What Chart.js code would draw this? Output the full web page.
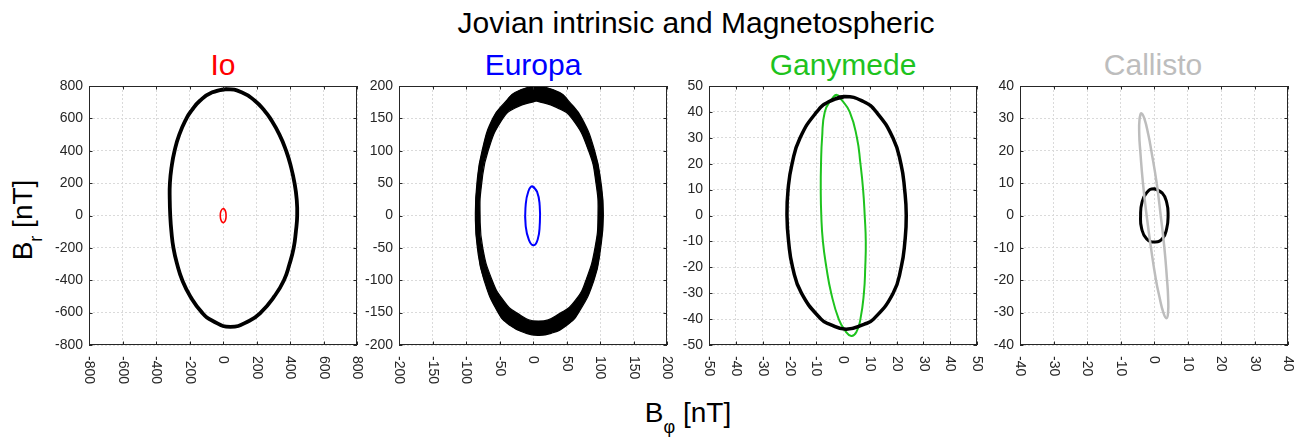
<!DOCTYPE html>
<html>
<head>
<meta charset="utf-8">
<script src="https://cdn.jsdelivr.net/npm/chart.js@4.4.1/dist/chart.umd.min.js"></script>
<style>
  body { margin: 0; background: #fff; width: 1305px; height: 439px; overflow: hidden; position: relative;
         font-family: "Liberation Sans", Arial, sans-serif; }
  canvas { position: absolute; top: 0; }
  .t { position: absolute; white-space: nowrap; text-align: center; font-size: 30px; line-height: 30px; }
  .lab { position: absolute; white-space: nowrap; color: #000; }
  .lab span { position: relative; }
</style>
</head>
<body>
<div class="t" style="left:446px;width:500px;top:8px;color:#000">Jovian intrinsic and Magnetospheric</div>
<div class="t" style="left:73px;width:300px;top:50px;color:#ff0000">Io</div>
<div class="t" style="left:383px;width:300px;top:50px;color:#0000ff">Europa</div>
<div class="t" style="left:693px;width:300px;top:50px;color:#1ec31e">Ganymede</div>
<div class="t" style="left:1003px;width:300px;top:50px;color:#bdbdbd">Callisto</div>
<div class="lab" style="font-size:28px;line-height:28px;left:24px;top:220px;transform:translate(-50%,-50%) rotate(-90deg)">B<span style="font-size:18px;top:10px">r</span> [nT]</div>
<div class="lab" style="font-size:28px;line-height:28px;left:588px;width:200px;text-align:center;top:399px">B<span style="font-size:18px;top:11px">φ</span> [nT]</div>

<script>
// tick values per panel
const ioTicks = [-800, -600, -400, -200, 0, 200, 400, 600, 800];
const europaTicks = [-200, -150, -100, -50, 0, 50, 100, 150, 200];
const ganymedeTicks = [-50, -40, -30, -20, -10, 0, 10, 20, 30, 40, 50];
const callistoTicks = [-40, -30, -20, -10, 0, 10, 20, 30, 40];

// curves, [B_phi, B_r] in nT
const ioJovian = [[22,781],[-67,760],[-138,709],[-187,650],[-218,600],[-261,500],[-289,400],[-307,300],
  [-317,200],[-318,100],[-315,0],[-308,-100],[-296,-200],[-274,-300],[-243,-400],[-195,-500],[-125,-600],
  [-63,-650],[44,-688],[158,-650],[225,-600],[306,-500],[364,-400],[397,-300],[422,-200],[435,-100],
  [443,0],[440,100],[427,200],[406,300],[377,400],[337,500],[282,600],[246,650],[190,709],[114,760],
  [22,781],[-67,760]];
const ioMoon = [[2,43],[13,32],[18,5],[15,-28],[3,-44],[-10,-33],[-16,-5],[-12,28],[2,43],[13,32]];

const europaOuter = [[5,202],[-27,190],[-40,177],[-60,150],[-76,100],[-83.7,50],[-86,0],[-83,-50],
  [-73,-100],[-52,-150],[-34,-170],[-10,-182],[7,-185],[27,-182],[50,-170],[68,-150],[91,-100],
  [101,-50],[105,0],[101.6,50],[92,100],[73,150],[53,177],[40,190],[5,202]];
const europaInner = [[5,177],[35,167],[58,150],[83,100],[94,50],[97,0],[92.5,-50],[79,-100],[64,-130],
  [42,-150],[8,-163],[-25,-150],[-45,-130],[-61,-100],[-75,-50],[-79,0],[-76.5,50],[-67,100],[-45,150],
  [-25,167],[5,177]];
const europaMoon = [[-1,45],[6,37],[10,15],[10,-15],[7,-37],[1,-46],[-6,-38],[-11,-15],[-11,15],[-7,37],[-1,45],[6,37]];

const ganymedeJovian = [[0.6,45.9],[-5.2,44],[-9.8,40],[-16,30],[-19,20],[-20.5,10],[-20.9,0],[-20.3,-10],
  [-18.8,-20],[-15.5,-30],[-8.2,-40],[-4.9,-42],[1.2,-43.9],[7.8,-42],[11.4,-40],[18.7,-30],[21.7,-20],
  [23.1,-10],[23.6,0],[23,10],[21.6,20],[18.6,30],[12.4,40],[7.6,44],[0.6,45.9],[-5.2,44]];
const ganymedeMoon = [[-2.5,46.6],[-4.4,44.7],[-6.8,40],[-7.8,30],[-8.2,20],[-8.3,10],[-8.1,0],[-7.5,-10],
  [-6.2,-20],[-4.4,-30],[-1.6,-40],[0.8,-44.5],[3.1,-46.5],[5,-45],[6.5,-40],[7.8,-30],[8.3,-20],[8.5,-10],
  [8.1,0],[7.5,10],[6.5,20],[5.2,30],[2.5,40],[-0.6,44.7],[-2.5,46.6],[-4.4,44.7]];

const callistoMoon = [[-3.8,31.6],[-4.3,30],[-4.4,25],[-4.1,20],[-3.3,10],[-2.2,0],[-0.9,-10],[0.6,-20],
  [1.6,-25],[2.8,-30],[3.7,-31.7],[4.2,-30],[4.2,-25],[3.9,-20],[3.1,-10],[2,0],[0.8,10],[-0.8,20],
  [-1.7,25],[-2.9,30],[-3.8,31.6],[-4.3,30]];
const callistoJovian = [[0,8.3],[2.4,7],[3.8,4],[4.2,0],[3.8,-4],[2.6,-7],[0.4,-8.2],[-2.2,-7.2],[-3.7,-4],
  [-4,0],[-3.6,4],[-2.2,7],[0,8.3],[2.4,7]];

const pts = arr => arr.map(([x, y]) => ({x, y}));
const curve = (arr, color, width) => ({
  data: pts(arr), borderColor: color, borderWidth: width, pointRadius: 0, tension: 0.5, fill: false
});

// Europa band: outer ring, then inner ring the other way round, filled as one shape
const europaBand = europaOuter.concat([europaOuter[europaOuter.length - 1], europaInner[0]], europaInner);

const panels = [
  {left: 89, ticks: ioTicks, sets: [curve(ioJovian, '#000', 3.8), curve(ioMoon, '#ff0000', 1.6)]},
  {left: 399, ticks: europaTicks, sets: [
    Object.assign(curve(europaBand, '#000', 1.2), {fill: 'shape', backgroundColor: '#000', clip: 0}),
    curve(europaMoon, '#0000ff', 2)]},
  {left: 709, ticks: ganymedeTicks, sets: [curve(ganymedeJovian, '#000', 3.5), curve(ganymedeMoon, '#1ec31e', 2)]},
  {left: 1020, ticks: callistoTicks, sets: [curve(callistoMoon, '#bdbdbd', 2.5), curve(callistoJovian, '#000', 3)]}
];

const boxPlugin = {
  id: 'box',
  afterDraw(chart) {
    const {ctx, chartArea: a, scales: {x, y}} = chart;
    ctx.save();
    ctx.strokeStyle = '#262626';
    ctx.lineWidth = 1;
    ctx.strokeRect(a.left + 0.5, a.top + 0.5, a.right - a.left - 1, a.bottom - a.top - 1);
    const tl = 3.5;
    ctx.beginPath();
    x.ticks.forEach(t => {
      const p = Math.round(x.getPixelForValue(t.value)) + 0.5;
      ctx.moveTo(p, a.bottom); ctx.lineTo(p, a.bottom - tl);
      ctx.moveTo(p, a.top); ctx.lineTo(p, a.top + tl);
    });
    y.ticks.forEach(t => {
      const p = Math.round(y.getPixelForValue(t.value)) + 0.5;
      ctx.moveTo(a.left, p); ctx.lineTo(a.left + tl, p);
      ctx.moveTo(a.right, p); ctx.lineTo(a.right - tl, p);
    });
    ctx.stroke();
    // x tick labels turned clockwise
    ctx.fillStyle = '#262626';
    ctx.font = '14px "Liberation Sans", Arial, sans-serif';
    ctx.textAlign = 'left';
    ctx.textBaseline = 'middle';
    x.ticks.forEach(t => {
      ctx.save();
      ctx.translate(x.getPixelForValue(t.value), a.bottom + 11);
      ctx.rotate(Math.PI / 2);
      ctx.fillText(String(t.value), 0, 0);
      ctx.restore();
    });
    ctx.restore();
  }
};

panels.forEach(p => {
  const cv = document.createElement('canvas');
  cv.width = 352; cv.height = 439;
  cv.style.left = (p.left - 70) + 'px';
  document.body.appendChild(cv);
  const lim = p.ticks[p.ticks.length - 1];
  const setTicks = s => { s.ticks = p.ticks.map(v => ({value: v})); };
  new Chart(cv.getContext('2d'), {
    type: 'line',
    data: {datasets: p.sets},
    options: {
      responsive: false,
      animation: false,
      events: [],
      layout: {padding: {left: 0, right: 14, top: 86, bottom: 94}},
      plugins: {legend: {display: false}, tooltip: {enabled: false}},
      scales: {
        x: {
          type: 'linear', min: -lim, max: lim,
          afterBuildTicks: setTicks,
          afterFit: s => { s.height = 0; },
          ticks: {display: false},
          grid: {color: '#dadada', drawTicks: false},
          border: {display: false, dash: [2, 2]}
        },
        y: {
          type: 'linear', min: -lim, max: lim,
          afterBuildTicks: setTicks,
          afterFit: s => { s.width = 70; },
          ticks: {color: '#262626', padding: 6, autoSkip: false,
                  font: {family: '"Liberation Sans", Arial, sans-serif', size: 14}},
          grid: {color: '#dadada', drawTicks: false},
          border: {display: false, dash: [2, 2]}
        }
      }
    },
    plugins: [boxPlugin]
  });
});
</script>
</body>
</html>
